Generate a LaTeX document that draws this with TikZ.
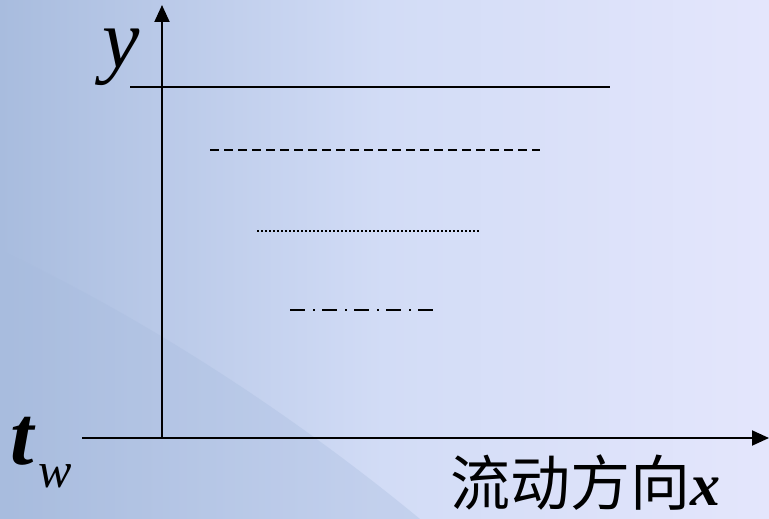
\documentclass[tikz,border=0pt]{standalone}
\usepackage{fontspec}
\setmainfont{Liberation Serif}
\newfontfamily\cjk{Noto Sans CJK SC}
\usetikzlibrary{arrows.meta}
\definecolor{bgleft}{RGB}{168,188,222}
\definecolor{bgmid}{RGB}{210,220,246}
\definecolor{bgright}{RGB}{228,230,252}
\tikzset{
  axis/.style={line width=2pt,-{Triangle[length=17pt,width=15pt]}},
  lev/.style={line width=2pt},
  lbl/.style={inner sep=0pt,anchor=base west}
}
\begin{document}
\begin{tikzpicture}[x=1pt,y=-1pt]
\useasboundingbox (0,0) rectangle (769,519);
\shade[left color=bgleft,right color=bgright,middle color=bgmid,shading angle=90] (0,0) rectangle (769,519);
\fill[bgleft,opacity=0.35] (0,519) -- (0,250) .. controls (150,320) and (300,420) .. (420,519) -- cycle;
% axes
\coordinate (ytop) at (162,5);
\coordinate (xl) at (82,438);
\coordinate (xr) at (769,438);
\coordinate (ybot) at (162,438);
\draw[axis] (ybot) -- (ytop);
\draw[axis] (xl) -- (xr);
% levels
\coordinate (a1) at (130,87); \coordinate (a2) at (610,87);
\coordinate (b1) at (210,150); \coordinate (b2) at (540,150);
\coordinate (c1) at (257,231); \coordinate (c2) at (480,231);
\coordinate (d1) at (290,310); \coordinate (d2) at (434,310);
\draw[lev] (a1) -- (a2);
\draw[lev,dash pattern=on 9pt off 5pt] (b1) -- (b2);
\draw[line width=1.6pt,dash pattern=on 2pt off 2pt] (c1) -- (c2);
\draw[lev,dash pattern=on 15pt off 8pt on 2pt off 7pt] (d1) -- (d2);
% labels
\node[lbl] (ylab) at (102,68) {\fontsize{84}{84}\selectfont\itshape y};
\node[lbl] (tlab) at (10,464) {\fontsize{84}{84}\selectfont\bfseries\itshape t};
\node[lbl] (wlab) at (38,487) {\fontsize{50}{50}\selectfont\itshape w};
\node[lbl] (xlab) at (450,505) {\fontsize{60}{60}\selectfont\cjk 流动方向\rmfamily\bfseries\itshape x};
\end{tikzpicture}
\end{document}
